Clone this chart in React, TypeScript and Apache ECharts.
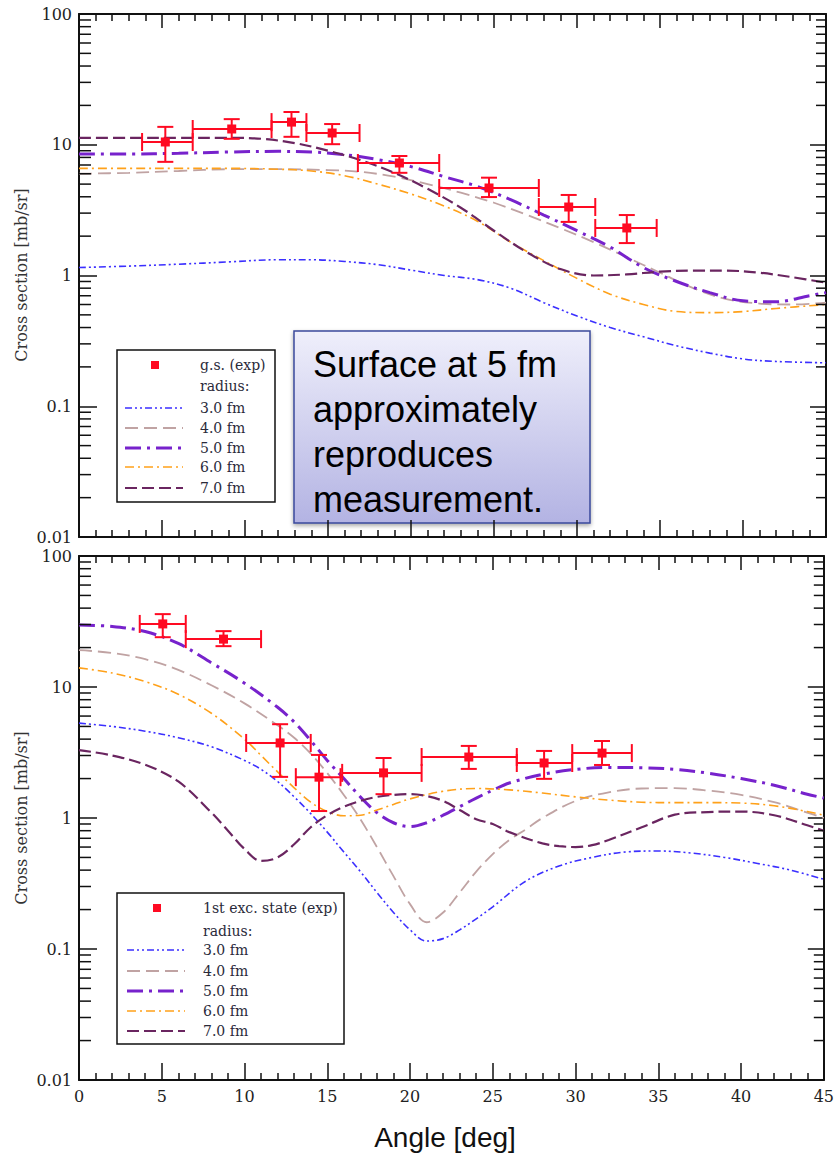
import React, { useEffect, useRef } from "react";
import * as echarts from "echarts";

// ---------- data ----------
const yTickLabels = ["0.01", "0.1", "1", "10", "100"];
const yDecades = [0.01, 0.1, 1, 10];
const yMinorMantissas = [2, 3, 4, 5, 6, 7, 8, 9];

const radiusNames = ["3.0 fm", "4.0 fm", "5.0 fm", "6.0 fm", "7.0 fm"];

// ground state (top panel) experimental points
const gsAngle = [5.2, 9.2, 12.8, 15.25, 19.3, 24.7, 29.5, 33.0];
const gsValue = [10.5, 13.2, 14.9, 12.3, 7.25, 4.67, 3.34, 2.31];
const gsAngleLo = [3.8, 6.85, 11.6, 13.7, 16.8, 21.7, 27.7, 31.1];
const gsAngleHi = [6.85, 11.6, 13.7, 16.9, 21.7, 27.7, 31.1, 34.8];
const gsValueLo = [7.4, 11.1, 11.5, 10.1, 6.1, 3.98, 2.57, 1.77];
const gsValueHi = [13.7, 15.7, 17.8, 14.4, 8.2, 5.6, 4.13, 2.9];

// 1st excited state (bottom panel) experimental points
const exAngle = [5.06, 8.73, 12.15, 14.5, 18.4, 23.55, 28.1, 31.6];
const exValue = [30.3, 23.2, 3.74, 2.05, 2.21, 2.92, 2.63, 3.13];
const exAngleLo = [3.67, 6.45, 10.1, 13.1, 15.9, 20.7, 26.45, 29.8];
const exAngleHi = [6.45, 11.0, 14.0, 15.8, 20.7, 26.45, 29.8, 33.4];
const exValueLo = [24, 20.5, 2.06, 1.13, 1.52, 2.37, 1.99, 2.54];
const exValueHi = [36, 26.7, 5.2, 3.03, 2.87, 3.55, 3.25, 3.87];

// top panel curves (g.s.)
const gs30 = [[0,1.15],[3,1.18],[6,1.22],[9,1.27],[12,1.32],[14,1.32],[16,1.28],[18,1.21],[20,1.1],[22,1.0],[24,0.93],[26,0.8],[28,0.62],[30,0.49],[32,0.4],[34,0.34],[36,0.29],[38,0.255],[40,0.23],[42,0.22],[45,0.215]];
const gs40 = [[0,6.0],[3,6.1],[6,6.3],[9,6.5],[12,6.5],[15,6.4],[17,6.2],[19,5.7],[21,5.0],[23,4.3],[25,3.6],[27,2.9],[29,2.3],[31,1.8],[33,1.38],[35,1.05],[37,0.8],[39,0.66],[41,0.61],[43,0.6],[45,0.62]];
const gs50 = [[0,8.5],[3,8.5],[6,8.6],[9,8.8],[12,8.9],[14,8.8],[16,8.4],[18,7.7],[20,6.8],[22,5.7],[24,4.8],[26,3.8],[28,2.9],[30,2.2],[32,1.65],[34,1.15],[36,0.9],[38,0.74],[40,0.64],[42,0.63],[44,0.7],[45,0.74]];
const gs60 = [[0,6.6],[3,6.6],[6,6.6],[9,6.6],[12,6.5],[14,6.3],[16,5.8],[18,5.0],[20,4.2],[22,3.4],[24,2.6],[26,1.8],[28,1.3],[30,0.95],[32,0.72],[34,0.6],[36,0.53],[38,0.52],[40,0.53],[42,0.56],[45,0.6]];
const gs70 = [[0,11.3],[3,11.3],[6,11.3],[9,11.3],[11,11.1],[13,10.3],[15,9.0],[17,7.6],[19,6.1],[21,4.6],[23,3.3],[25,2.2],[27,1.5],[29,1.12],[31,1.0],[33,1.02],[35,1.07],[37,1.09],[39,1.09],[41,1.05],[43,0.97],[45,0.88]];

// bottom panel curves (1st exc.)
const ex30 = [[0,5.3],[2,5.0],[4,4.6],[6,4.1],[8,3.5],[10,2.75],[11,2.35],[12,1.9],[13,1.45],[14,1.08],[15,0.78],[16,0.55],[17,0.39],[18,0.27],[19,0.19],[20,0.14],[21,0.115],[22,0.12],[23,0.14],[24,0.17],[25,0.21],[27,0.33],[29,0.43],[31,0.5],[33,0.55],[35,0.56],[37,0.54],[39,0.5],[41,0.45],[43,0.4],[45,0.34]];
const ex40 = [[0,19.1],[2,18.2],[4,16.3],[6,13.5],[8,10.3],[10,7.5],[12,5.1],[13,4.1],[14,3.1],[15,2.2],[16,1.5],[17,0.98],[18,0.6],[19,0.36],[20,0.22],[21,0.16],[22,0.19],[23,0.27],[24,0.39],[25,0.53],[26,0.68],[27,0.82],[28,1.0],[30,1.35],[32,1.57],[34,1.68],[36,1.69],[38,1.62],[40,1.5],[42,1.32],[44,1.1],[45,1.0]];
const ex50 = [[0,29.7],[2,29],[4,26.5],[6,21.5],[8,15.3],[10,10.7],[12,7.0],[13,5.4],[14,3.9],[15,2.75],[16,2.0],[17,1.45],[18,1.1],[19,0.92],[20,0.86],[21,0.92],[22,1.05],[23,1.22],[24,1.42],[25,1.63],[26,1.85],[28,2.15],[30,2.35],[32,2.43],[34,2.42],[36,2.35],[38,2.2],[40,2.0],[42,1.78],[44,1.52],[45,1.42]];
const ex60 = [[0,14],[2,12.8],[4,11],[6,8.8],[8,6.3],[10,4.0],[11,3.0],[12,2.25],[13,1.7],[14,1.32],[15,1.12],[16,1.04],[17,1.05],[18,1.15],[19,1.27],[20,1.4],[22,1.6],[24,1.68],[26,1.64],[28,1.55],[30,1.45],[32,1.37],[34,1.32],[36,1.31],[38,1.31],[40,1.3],[42,1.24],[44,1.12],[45,1.05]];
const ex70 = [[0,3.3],[2,3.0],[4,2.55],[6,1.9],[8,1.1],[9,0.8],[10,0.58],[11,0.47],[12,0.5],[13,0.63],[14,0.85],[15,1.05],[16,1.22],[17,1.35],[18,1.45],[19,1.5],[20,1.52],[21,1.47],[22,1.35],[23,1.15],[24,0.98],[25,0.9],[26,0.78],[28,0.64],[29,0.61],[30,0.6],[31,0.62],[32,0.68],[34,0.85],[36,1.06],[38,1.11],[40,1.12],[42,1.05],[44,0.88],[45,0.8]];

// ---------- styles ----------
const RED = "#ff0a22";
const curveStyles = [
  { color: "#3b2fff", width: 1.6, type: [7, 3, 2, 3, 2, 3] },
  { color: "#c0a3a3", width: 1.8, type: [13, 6] },
  { color: "#7722cc", width: 3, type: [16, 6, 3, 6] },
  { color: "#ffa11a", width: 1.6, type: [9, 4, 2, 4] },
  { color: "#6a2560", width: 2.2, type: [12, 5] },
];
const SERIF = "DejaVu Serif";
const AXIS_COLOR = "#111";

const X_MIN = 0;
const X_MAX = 45;

export default function App() {
  const ref = useRef<HTMLDivElement>(null);

  useEffect(() => {
    if (!ref.current) return;
    const chart = echarts.init(ref.current, null, { renderer: "svg" });

    const grids = [
      { left: 79, top: 14, width: 747, height: 523 },
      { left: 79, top: 556, width: 747, height: 524 },
    ];

    const yLabelFmt = (v: number) => {
      const e = Math.round(Math.log10(v));
      return yTickLabels[e + 2] ?? "";
    };

    const xAxisBottom = (gi: number, showLabel: boolean) => ({
      type: "value",
      gridIndex: gi,
      position: "bottom",
      min: X_MIN,
      max: X_MAX,
      interval: 5,
      axisLine: { show: true, onZero: false, lineStyle: { color: AXIS_COLOR, width: 2 } },
      axisTick: { show: true, inside: true, length: 17, lineStyle: { color: AXIS_COLOR, width: 1.5 } },
      minorTick: { show: true, splitNumber: 5, length: 7, lineStyle: { color: AXIS_COLOR, width: 1.5 } },
      axisLabel: { show: showLabel, fontFamily: SERIF, fontSize: 16, color: "#222", margin: 8 },
      splitLine: { show: false },
      minorSplitLine: { show: false },
    });
    const xAxisTop = (gi: number) => ({
      type: "value",
      gridIndex: gi,
      position: "top",
      min: X_MIN,
      max: X_MAX,
      interval: 5,
      axisLine: { show: true, onZero: false, lineStyle: { color: AXIS_COLOR, width: 2 } },
      axisTick: { show: true, inside: true, length: 14, lineStyle: { color: AXIS_COLOR, width: 1.5 } },
      minorTick: { show: true, splitNumber: 5, length: 7, lineStyle: { color: AXIS_COLOR, width: 1.5 } },
      axisLabel: { show: false },
      splitLine: { show: false },
    });
    const yAxisLeft = (gi: number) => ({
      type: "log",
      logBase: 10,
      gridIndex: gi,
      position: "left",
      min: 0.01,
      max: 100,
      axisLine: { show: true, onZero: false, lineStyle: { color: AXIS_COLOR, width: 2 } },
      axisTick: { show: true, inside: true, length: 18, lineStyle: { color: AXIS_COLOR, width: 1.5 } },
      axisLabel: { show: true, fontFamily: SERIF, fontSize: 16, color: "#222", margin: 7, formatter: yLabelFmt },
      splitLine: { show: false },
    });
    const yAxisRight = (gi: number) => ({
      type: "log",
      logBase: 10,
      gridIndex: gi,
      position: "right",
      min: 0.01,
      max: 100,
      axisLine: { show: true, onZero: false, lineStyle: { color: AXIS_COLOR, width: 2 } },
      axisTick: { show: true, inside: true, length: 16, lineStyle: { color: AXIS_COLOR, width: 1.5 } },
      axisLabel: { show: false },
      splitLine: { show: false },
    });

    const minorTickData: number[][] = [];
    yDecades.forEach((d) => yMinorMantissas.forEach((m) => minorTickData.push([X_MIN, m * d])));

    const minorRender = (_p: any, api: any) => {
      const v = api.value(1);
      const pL = api.coord([X_MIN, v]);
      const pR = api.coord([X_MAX, v]);
      const st = { stroke: AXIS_COLOR, lineWidth: 1.5 };
      return {
        type: "group",
        children: [
          { type: "line", shape: { x1: pL[0], y1: pL[1], x2: pL[0] + 12, y2: pL[1] }, style: st },
          { type: "line", shape: { x1: pR[0], y1: pR[1], x2: pR[0] - 10, y2: pR[1] }, style: st },
        ],
      };
    };

    const errRender = (_p: any, api: any) => {
      const c = api.coord([api.value(0), api.value(1)]);
      const l = api.coord([api.value(2), api.value(1)]);
      const r = api.coord([api.value(3), api.value(1)]);
      const lo = api.coord([api.value(0), api.value(4)]);
      const hi = api.coord([api.value(0), api.value(5)]);
      const st = { stroke: RED, lineWidth: 2 };
      return {
        type: "group",
        children: [
          { type: "line", shape: { x1: l[0], y1: c[1], x2: r[0], y2: c[1] }, style: st },
          { type: "line", shape: { x1: l[0], y1: c[1] - 9, x2: l[0], y2: c[1] + 9 }, style: st },
          { type: "line", shape: { x1: r[0], y1: c[1] - 9, x2: r[0], y2: c[1] + 9 }, style: st },
          { type: "line", shape: { x1: c[0], y1: hi[1], x2: c[0], y2: lo[1] }, style: st },
          { type: "line", shape: { x1: c[0] - 8, y1: hi[1], x2: c[0] + 8, y2: hi[1] }, style: st },
          { type: "line", shape: { x1: c[0] - 8, y1: lo[1], x2: c[0] + 8, y2: lo[1] }, style: st },
          { type: "rect", shape: { x: c[0] - 4.5, y: c[1] - 4.5, width: 9, height: 9 }, style: { fill: RED } },
        ],
      };
    };

    const pointsData = (a: number[], v: number[], alo: number[], ahi: number[], vlo: number[], vhi: number[]) =>
      a.map((x, i) => [x, v[i], alo[i], ahi[i], vlo[i], vhi[i]]);

    const curveSeries = (name: string, data: number[][], idx: number, axis: number) => ({
      name,
      type: "line",
      xAxisIndex: axis,
      yAxisIndex: axis,
      data,
      smooth: 0.35,
      showSymbol: false,
      symbol: "none",
      z: 3,
      lineStyle: { ...curveStyles[idx] },
    });

    const topCurves = [gs30, gs40, gs50, gs60, gs70];
    const botCurves = [ex30, ex40, ex50, ex60, ex70];

    const series: any[] = [];
    topCurves.forEach((d, i) => series.push(curveSeries(radiusNames[i], d, i, 0)));
    botCurves.forEach((d, i) => series.push(curveSeries(radiusNames[i] + " ", d, i, 2)));
    series.push({
      name: "g.s. (exp)",
      type: "custom",
      xAxisIndex: 0,
      yAxisIndex: 0,
      renderItem: errRender,
      data: pointsData(gsAngle, gsValue, gsAngleLo, gsAngleHi, gsValueLo, gsValueHi),
      z: 5,
    });
    series.push({
      name: "1st exc. state (exp)",
      type: "custom",
      xAxisIndex: 2,
      yAxisIndex: 2,
      renderItem: errRender,
      data: pointsData(exAngle, exValue, exAngleLo, exAngleHi, exValueLo, exValueHi),
      z: 5,
    });
    [0, 2].forEach((ai) =>
      series.push({
        type: "custom",
        xAxisIndex: ai,
        yAxisIndex: ai,
        renderItem: minorRender,
        data: minorTickData,
        silent: true,
        z: 6,
      })
    );

    const legendGraphic = (
      bx: number, by: number, bw: number, bh: number,
      title: string, sqX: number, titleY: number, textX: number,
      radiusY: number, rowYs: number[], lineX1: number, lineX2: number
    ) => {
      const children: any[] = [
        { type: "rect", shape: { x: bx, y: by, width: bw, height: bh }, style: { fill: "#fff", stroke: AXIS_COLOR, lineWidth: 1.5 } },
        { type: "rect", shape: { x: sqX - 4, y: titleY - 4, width: 8, height: 8 }, style: { fill: RED } },
        { type: "text", x: textX, y: titleY, style: { text: title, font: `14px "${SERIF}"`, fill: "#2a2a3a", verticalAlign: "middle" } },
        { type: "text", x: textX, y: radiusY, style: { text: "radius:", font: `14px "${SERIF}"`, fill: "#2a2a3a", verticalAlign: "middle" } },
      ];
      rowYs.forEach((y, i) => {
        const cs = curveStyles[i];
        children.push({
          type: "line",
          shape: { x1: lineX1, y1: y, x2: lineX2, y2: y },
          style: { stroke: cs.color, lineWidth: cs.width, lineDash: cs.type },
        });
        children.push({
          type: "text", x: textX, y,
          style: { text: radiusNames[i], font: `14px "${SERIF}"`, fill: "#2a2a3a", verticalAlign: "middle" },
        });
      });
      return { type: "group", z: 20, children };
    };

    const option: any = {
      animation: false,
      backgroundColor: "#ffffff",
      grid: grids,
      xAxis: [xAxisBottom(0, false), xAxisTop(0), xAxisBottom(1, true), xAxisTop(1)],
      yAxis: [yAxisLeft(0), yAxisRight(0), yAxisLeft(1), yAxisRight(1)],
      series,
      graphic: [
        legendGraphic(117, 350, 158, 152, "g.s. (exp)", 155, 365, 200, 386, [408, 428, 448, 467, 488], 125, 183),
        legendGraphic(117, 893, 227, 151, "1st exc. state (exp)", 157, 908, 203, 931, [950, 971, 991, 1011, 1031], 127, 185),
        {
          type: "group",
          z: 30,
          children: [
            {
              type: "rect",
              shape: { x: 294, y: 331, width: 296, height: 192 },
              style: {
                fill: new echarts.graphic.LinearGradient(0, 0, 0, 1, [
                  { offset: 0, color: "#efeffb" },
                  { offset: 1, color: "#b3b3e3" },
                ]),
                stroke: "#3b4a9c",
                lineWidth: 1.5,
                shadowBlur: 4,
                shadowOffsetY: 2,
                shadowColor: "rgba(0,0,0,0.35)",
              },
            },
            {
              type: "text",
              x: 313,
              y: 342,
              style: {
                text: "Surface at 5 fm\napproximately\nreproduces\nmeasurement.",
                font: '36px "Liberation Sans", Arial, sans-serif',
                lineHeight: 45,
                fill: "#000",
                verticalAlign: "top",
              },
            },
          ],
        },
        {
          type: "text",
          x: 21,
          y: 275,
          rotation: Math.PI / 2,
          style: { text: "Cross section [mb/sr]", font: `16px "${SERIF}"`, fill: "#333", align: "center", verticalAlign: "middle" },
        },
        {
          type: "text",
          x: 21,
          y: 818,
          rotation: Math.PI / 2,
          style: { text: "Cross section [mb/sr]", font: `16px "${SERIF}"`, fill: "#333", align: "center", verticalAlign: "middle" },
        },
        {
          type: "text",
          x: 445,
          y: 1137,
          style: { text: "Angle [deg]", font: '28px "Liberation Sans", Arial, sans-serif', fill: "#111", align: "center", verticalAlign: "middle" },
        },
      ],
    };

    chart.setOption(option);
    return () => chart.dispose();
  }, []);

  return (
    <div
      ref={ref}
      style={{ position: "absolute", left: 0, top: 0, width: 837, height: 1155, background: "#fff" }}
    />
  );
}
